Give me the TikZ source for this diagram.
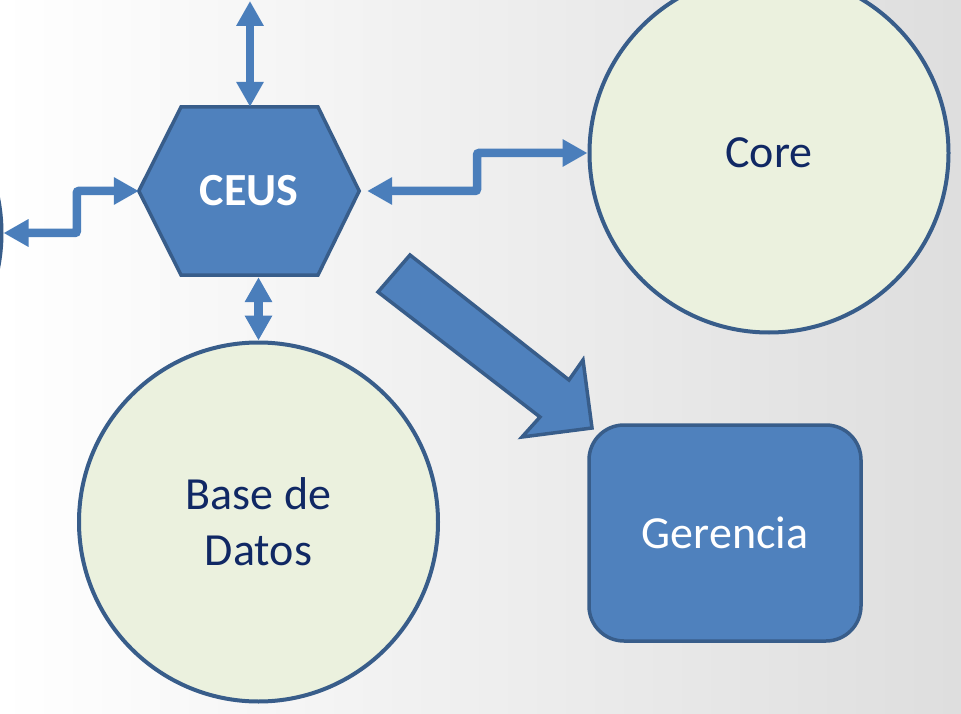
\documentclass[tikz,border=0pt]{standalone}
\usepackage{fontspec}
\setmainfont{Carlito}
\usetikzlibrary{arrows.meta}
\definecolor{bfill}{HTML}{4F81BD}
\definecolor{bline}{HTML}{385D8A}
\definecolor{cfill}{HTML}{EBF1DE}
\definecolor{conncol}{HTML}{4A7EBB}
\definecolor{navy}{RGB}{16,40,100}
\tikzset{
  circ/.style={circle, draw=bline, fill=cfill, line width=4pt, minimum size=359pt, inner sep=0pt,
    align=center, text=navy, font=\fontsize{46}{56}\selectfont},
  boxg/.style={rectangle, rounded corners=35pt, draw=bline, fill=bfill, line width=3.5pt,
    minimum width=272pt, minimum height=216pt, text=white, font=\fontsize{46}{56}\selectfont},
  hexbody/.style={draw=bline, fill=bfill, line width=3.5pt, line join=miter},
  hexnode/.style={rectangle, draw=none, minimum width=220pt, minimum height=168pt, inner sep=0pt,
    text=white, font=\fontsize{46}{56}\selectfont\bfseries},
  conn/.style={draw=conncol, line width=8.5pt, rounded corners=2pt},
  tipend/.tip={Triangle[length=25pt,width=26pt]},
  bigarrow/.style={draw=bline, fill=bfill, line width=3.5pt, line join=miter},
}
\begin{document}
\begin{tikzpicture}[x=1pt,y=-1pt]
\useasboundingbox (0,0) rectangle (961,714);
\clip (0,0) rectangle (961,714);
\shade[left color=white, right color=black!13] (0,0) rectangle (961,714);

% hexagon CEUS
\node[hexnode] (ceus) at (249,191) {};
\draw[hexbody] (ceus.west) -- (181,107) -- (318,107) -- (ceus.east) -- (318,275) -- (181,275) -- cycle;
\node[hexnode] at (ceus.center) {CEUS};

% circles
\node[circ] (core) at (769,153) {Core};
\node[circ] (base) at (258.5,522) {Base de\\Datos};
\node[circ] (left) at (-178,233) {};

% Gerencia
\node[boxg] (ger) at (725,533) {Gerencia};

% big block arrow
\draw[bigarrow] (410,255) -- (569,380) -- (583,360) -- (592,428) -- (522,437) -- (540,417) -- (378,292) -- cycle;

% connectors
\coordinate (topend) at (250,1);
\draw[conn, tipend-tipend] (topend) -- (ceus.north -| topend);
\draw[conn, tipend-tipend] ([yshift=-2pt]base.north |- ceus.south) -- (base.north);
\draw[conn, tipend-tipend] (ceus.west) -- ++(-62,0) |- (left.east);
\draw[conn, tipend-tipend] ([xshift=8pt]ceus.east) -- (477,191) |- (core.west);
\end{tikzpicture}
\end{document}
